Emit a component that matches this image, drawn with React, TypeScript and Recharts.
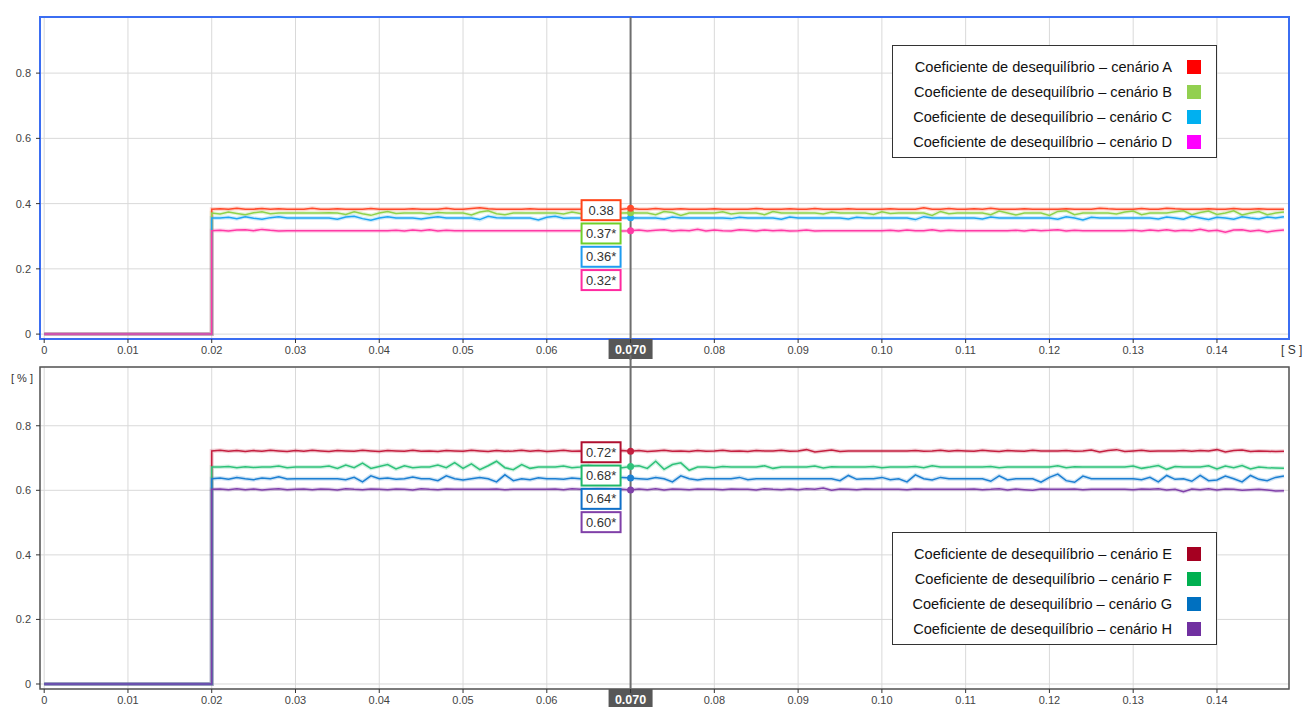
import React from 'react';
import {
  LineChart,
  Line,
  XAxis,
  YAxis,
  CartesianGrid,
  ReferenceArea,
  ReferenceLine,
  ReferenceDot,
  Legend,
} from 'recharts';

const FONT = '"Liberation Sans", Arial, Helvetica, sans-serif';

// ---------- data ----------
const xTicks = [0, 0.01, 0.02, 0.03, 0.04, 0.05, 0.06, 0.07, 0.08, 0.09, 0.1, 0.11, 0.12, 0.13, 0.14];
const xTickLabels = ['0', '0.01', '0.02', '0.03', '0.04', '0.05', '0.06', '0.07', '0.08', '0.09', '0.10', '0.11', '0.12', '0.13', '0.14'];
const yTicks = [0, 0.2, 0.4, 0.6, 0.8];
const yTickLabels = ['0', '0.2', '0.4', '0.6', '0.8'];

const cursorTime = 0.07;
const cursorText = '0.070';

const preTimes = [0, 0.02];
const preValues = [0, 0];

const times = [
  0.020, 0.021, 0.022, 0.023, 0.024, 0.025, 0.026, 0.027, 0.028, 0.029,
  0.030, 0.031, 0.032, 0.033, 0.034, 0.035, 0.036, 0.037, 0.038, 0.039,
  0.040, 0.041, 0.042, 0.043, 0.044, 0.045, 0.046, 0.047, 0.048, 0.049,
  0.050, 0.051, 0.052, 0.053, 0.054, 0.055, 0.056, 0.057, 0.058, 0.059,
  0.060, 0.061, 0.062, 0.063, 0.064, 0.065, 0.066, 0.067, 0.068, 0.069,
  0.070, 0.071, 0.072, 0.073, 0.074, 0.075, 0.076, 0.077, 0.078, 0.079,
  0.080, 0.081, 0.082, 0.083, 0.084, 0.085, 0.086, 0.087, 0.088, 0.089,
  0.090, 0.091, 0.092, 0.093, 0.094, 0.095, 0.096, 0.097, 0.098, 0.099,
  0.100, 0.101, 0.102, 0.103, 0.104, 0.105, 0.106, 0.107, 0.108, 0.109,
  0.110, 0.111, 0.112, 0.113, 0.114, 0.115, 0.116, 0.117, 0.118, 0.119,
  0.120, 0.121, 0.122, 0.123, 0.124, 0.125, 0.126, 0.127, 0.128, 0.129,
  0.130, 0.131, 0.132, 0.133, 0.134, 0.135, 0.136, 0.137, 0.138, 0.139,
  0.140, 0.141, 0.142, 0.143, 0.144, 0.145, 0.146, 0.147, 0.148,
];

const seriesA = [
  0.383, 0.384, 0.383, 0.386, 0.383, 0.383, 0.385, 0.383, 0.384, 0.383,
  0.383, 0.383, 0.386, 0.383, 0.383, 0.384, 0.383, 0.383, 0.383, 0.385,
  0.383, 0.383, 0.383, 0.383, 0.384, 0.383, 0.383, 0.383, 0.386, 0.383,
  0.383, 0.385, 0.387, 0.384, 0.383, 0.383, 0.383, 0.383, 0.384, 0.383,
  0.383, 0.383, 0.383, 0.383, 0.383, 0.383, 0.383, 0.384, 0.383, 0.383,
  0.386, 0.383, 0.383, 0.385, 0.383, 0.383, 0.384, 0.383, 0.383, 0.383,
  0.384, 0.383, 0.383, 0.383, 0.383, 0.385, 0.383, 0.383, 0.383, 0.384,
  0.383, 0.383, 0.385, 0.383, 0.383, 0.383, 0.384, 0.383, 0.383, 0.383,
  0.383, 0.384, 0.383, 0.383, 0.383, 0.387, 0.383, 0.383, 0.385, 0.383,
  0.383, 0.384, 0.383, 0.386, 0.383, 0.383, 0.383, 0.384, 0.383, 0.383,
  0.383, 0.383, 0.384, 0.383, 0.383, 0.383, 0.386, 0.384, 0.383, 0.383,
  0.383, 0.385, 0.383, 0.383, 0.386, 0.384, 0.383, 0.383, 0.383, 0.384,
  0.383, 0.383, 0.385, 0.383, 0.383, 0.384, 0.383, 0.383, 0.383,
];
const seriesB = [
  0.371, 0.368, 0.374, 0.370, 0.366, 0.372, 0.375, 0.369, 0.371, 0.371,
  0.371, 0.371, 0.371, 0.371, 0.372, 0.371, 0.367, 0.375, 0.369, 0.364,
  0.371, 0.376, 0.370, 0.371, 0.371, 0.371, 0.368, 0.373, 0.371, 0.371,
  0.371, 0.365, 0.374, 0.378, 0.369, 0.366, 0.371, 0.371, 0.371, 0.371,
  0.371, 0.371, 0.368, 0.374, 0.370, 0.364, 0.371, 0.377, 0.370, 0.371,
  0.372, 0.371, 0.371, 0.366, 0.376, 0.373, 0.364, 0.371, 0.371, 0.371,
  0.371, 0.375, 0.368, 0.371, 0.371, 0.371, 0.366, 0.376, 0.371, 0.371,
  0.371, 0.371, 0.371, 0.368, 0.374, 0.371, 0.371, 0.371, 0.371, 0.367,
  0.375, 0.370, 0.371, 0.371, 0.371, 0.371, 0.364, 0.376, 0.369, 0.371,
  0.371, 0.371, 0.371, 0.366, 0.377, 0.371, 0.365, 0.371, 0.371, 0.371,
  0.364, 0.376, 0.378, 0.366, 0.371, 0.371, 0.371, 0.371, 0.368, 0.374,
  0.377, 0.366, 0.371, 0.371, 0.371, 0.375, 0.378, 0.366, 0.373, 0.377,
  0.367, 0.371, 0.378, 0.365, 0.371, 0.376, 0.366, 0.371, 0.374,
];
const seriesC = [
  0.356, 0.356, 0.358, 0.354, 0.360, 0.355, 0.352, 0.357, 0.360, 0.356,
  0.356, 0.356, 0.356, 0.356, 0.356, 0.352, 0.359, 0.361, 0.354, 0.349,
  0.356, 0.360, 0.356, 0.356, 0.356, 0.353, 0.357, 0.360, 0.356, 0.356,
  0.356, 0.356, 0.351, 0.361, 0.357, 0.356, 0.356, 0.356, 0.356, 0.350,
  0.358, 0.361, 0.355, 0.356, 0.356, 0.356, 0.352, 0.359, 0.356, 0.356,
  0.357, 0.356, 0.356, 0.356, 0.353, 0.359, 0.356, 0.356, 0.356, 0.356,
  0.356, 0.356, 0.354, 0.358, 0.356, 0.356, 0.356, 0.356, 0.352, 0.359,
  0.356, 0.356, 0.356, 0.356, 0.356, 0.356, 0.353, 0.358, 0.356, 0.356,
  0.356, 0.356, 0.356, 0.356, 0.351, 0.360, 0.356, 0.356, 0.356, 0.356,
  0.356, 0.356, 0.353, 0.359, 0.356, 0.356, 0.356, 0.356, 0.356, 0.356,
  0.356, 0.352, 0.360, 0.356, 0.350, 0.358, 0.356, 0.356, 0.356, 0.356,
  0.356, 0.356, 0.356, 0.353, 0.359, 0.356, 0.352, 0.361, 0.356, 0.351,
  0.358, 0.356, 0.352, 0.360, 0.356, 0.353, 0.359, 0.356, 0.360,
];
const seriesD = [
  0.317, 0.318, 0.316, 0.319, 0.320, 0.317, 0.321, 0.318, 0.316, 0.317,
  0.317, 0.317, 0.317, 0.317, 0.317, 0.317, 0.317, 0.317, 0.317, 0.317,
  0.317, 0.317, 0.318, 0.316, 0.319, 0.317, 0.320, 0.316, 0.318, 0.317,
  0.317, 0.317, 0.317, 0.317, 0.317, 0.317, 0.317, 0.317, 0.317, 0.317,
  0.317, 0.317, 0.317, 0.317, 0.317, 0.317, 0.317, 0.317, 0.318, 0.316,
  0.317, 0.319, 0.316, 0.318, 0.320, 0.316, 0.318, 0.317, 0.321, 0.316,
  0.319, 0.317, 0.316, 0.320, 0.318, 0.316, 0.319, 0.317, 0.318, 0.316,
  0.317, 0.319, 0.316, 0.317, 0.317, 0.317, 0.317, 0.317, 0.317, 0.317,
  0.317, 0.318, 0.316, 0.319, 0.317, 0.317, 0.320, 0.316, 0.318, 0.317,
  0.317, 0.317, 0.317, 0.317, 0.317, 0.317, 0.318, 0.316, 0.319, 0.317,
  0.318, 0.320, 0.316, 0.318, 0.317, 0.317, 0.317, 0.317, 0.317, 0.317,
  0.318, 0.316, 0.319, 0.317, 0.320, 0.316, 0.318, 0.317, 0.321, 0.316,
  0.318, 0.312, 0.319, 0.320, 0.315, 0.318, 0.313, 0.317, 0.319,
];
const seriesE = [
  0.722, 0.724, 0.721, 0.723, 0.720, 0.723, 0.721, 0.724, 0.722, 0.720,
  0.723, 0.721, 0.724, 0.722, 0.720, 0.723, 0.722, 0.721, 0.724, 0.722,
  0.720, 0.723, 0.722, 0.721, 0.724, 0.721, 0.722, 0.720, 0.723, 0.722,
  0.721, 0.724, 0.722, 0.720, 0.723, 0.721, 0.722, 0.724, 0.721, 0.723,
  0.720, 0.722, 0.724, 0.721, 0.722, 0.720, 0.723, 0.722, 0.721, 0.723,
  0.721, 0.723, 0.720, 0.722, 0.724, 0.721, 0.722, 0.720, 0.723, 0.721,
  0.722, 0.724, 0.721, 0.722, 0.720, 0.723, 0.722, 0.722, 0.724, 0.721,
  0.722, 0.726, 0.719, 0.722, 0.725, 0.720, 0.722, 0.722, 0.722, 0.722,
  0.722, 0.722, 0.722, 0.722, 0.723, 0.721, 0.722, 0.724, 0.721, 0.723,
  0.722, 0.721, 0.724, 0.722, 0.720, 0.723, 0.722, 0.721, 0.724, 0.722,
  0.722, 0.722, 0.723, 0.721, 0.722, 0.725, 0.719, 0.723, 0.726, 0.720,
  0.722, 0.724, 0.721, 0.722, 0.722, 0.722, 0.723, 0.721, 0.723, 0.722,
  0.726, 0.719, 0.723, 0.725, 0.720, 0.722, 0.721, 0.720, 0.721,
];
const seriesF = [
  0.672, 0.672, 0.674, 0.670, 0.673, 0.671, 0.672, 0.672, 0.675, 0.670,
  0.672, 0.672, 0.672, 0.672, 0.675, 0.668, 0.678, 0.670, 0.684, 0.668,
  0.674, 0.680, 0.666, 0.676, 0.670, 0.672, 0.672, 0.678, 0.670, 0.686,
  0.668, 0.682, 0.664, 0.676, 0.690, 0.670, 0.664, 0.680, 0.668, 0.672,
  0.672, 0.672, 0.675, 0.670, 0.672, 0.677, 0.668, 0.672, 0.672, 0.670,
  0.674, 0.676, 0.668, 0.690, 0.665, 0.680, 0.685, 0.662, 0.672, 0.672,
  0.670, 0.674, 0.672, 0.672, 0.672, 0.672, 0.676, 0.668, 0.672, 0.672,
  0.672, 0.672, 0.675, 0.669, 0.673, 0.672, 0.672, 0.672, 0.672, 0.674,
  0.670, 0.672, 0.672, 0.672, 0.674, 0.670, 0.676, 0.672, 0.672, 0.672,
  0.672, 0.672, 0.672, 0.674, 0.670, 0.672, 0.672, 0.672, 0.672, 0.672,
  0.672, 0.676, 0.670, 0.673, 0.672, 0.672, 0.672, 0.672, 0.672, 0.672,
  0.675, 0.668, 0.672, 0.677, 0.665, 0.674, 0.672, 0.672, 0.672, 0.676,
  0.666, 0.675, 0.670, 0.677, 0.666, 0.672, 0.670, 0.669, 0.668,
];
const seriesG = [
  0.636, 0.638, 0.634, 0.640, 0.636, 0.633, 0.638, 0.636, 0.642, 0.635,
  0.636, 0.636, 0.636, 0.636, 0.636, 0.636, 0.633, 0.640, 0.626, 0.645,
  0.636, 0.638, 0.634, 0.636, 0.641, 0.636, 0.636, 0.630, 0.645, 0.636,
  0.632, 0.636, 0.640, 0.636, 0.626, 0.648, 0.630, 0.636, 0.633, 0.639,
  0.636, 0.636, 0.634, 0.638, 0.636, 0.636, 0.636, 0.636, 0.633, 0.640,
  0.638, 0.636, 0.634, 0.640, 0.636, 0.626, 0.645, 0.636, 0.632, 0.636,
  0.636, 0.636, 0.636, 0.640, 0.633, 0.636, 0.636, 0.636, 0.636, 0.636,
  0.636, 0.636, 0.636, 0.636, 0.636, 0.630, 0.646, 0.634, 0.636, 0.636,
  0.640, 0.633, 0.636, 0.626, 0.648, 0.636, 0.632, 0.640, 0.636, 0.636,
  0.636, 0.636, 0.636, 0.628, 0.645, 0.632, 0.636, 0.636, 0.636, 0.625,
  0.640, 0.650, 0.630, 0.625, 0.644, 0.636, 0.636, 0.636, 0.636, 0.636,
  0.636, 0.633, 0.640, 0.626, 0.646, 0.634, 0.636, 0.628, 0.646, 0.630,
  0.632, 0.644, 0.636, 0.626, 0.646, 0.634, 0.630, 0.640, 0.644,
];
const seriesH = [
  0.603, 0.604, 0.602, 0.605, 0.602, 0.604, 0.601, 0.603, 0.605, 0.602,
  0.603, 0.604, 0.602, 0.604, 0.603, 0.601, 0.605, 0.603, 0.602, 0.604,
  0.603, 0.602, 0.604, 0.603, 0.601, 0.605, 0.603, 0.602, 0.604, 0.603,
  0.603, 0.603, 0.603, 0.603, 0.604, 0.602, 0.603, 0.603, 0.603, 0.603,
  0.603, 0.604, 0.602, 0.605, 0.603, 0.602, 0.604, 0.603, 0.602, 0.603,
  0.601, 0.604, 0.602, 0.605, 0.601, 0.604, 0.603, 0.602, 0.604, 0.603,
  0.603, 0.602, 0.604, 0.603, 0.603, 0.601, 0.605, 0.603, 0.602, 0.604,
  0.602, 0.605, 0.603, 0.607, 0.600, 0.604, 0.603, 0.602, 0.604, 0.603,
  0.603, 0.603, 0.603, 0.602, 0.604, 0.603, 0.603, 0.603, 0.603, 0.603,
  0.603, 0.604, 0.602, 0.603, 0.605, 0.601, 0.604, 0.602, 0.600, 0.604,
  0.603, 0.603, 0.603, 0.604, 0.602, 0.603, 0.603, 0.603, 0.603, 0.603,
  0.602, 0.604, 0.603, 0.605, 0.601, 0.603, 0.596, 0.604, 0.602, 0.605,
  0.601, 0.604, 0.603, 0.600, 0.602, 0.603, 0.601, 0.598, 0.599,
];

const seriesNames = [
  'Coeficiente de desequilíbrio – cenário A',
  'Coeficiente de desequilíbrio – cenário B',
  'Coeficiente de desequilíbrio – cenário C',
  'Coeficiente de desequilíbrio – cenário D',
  'Coeficiente de desequilíbrio – cenário E',
  'Coeficiente de desequilíbrio – cenário F',
  'Coeficiente de desequilíbrio – cenário G',
  'Coeficiente de desequilíbrio – cenário H',
];
const cursorLabels = ['0.38', '0.37*', '0.36*', '0.32*', '0.72*', '0.68*', '0.64*', '0.60*'];

// ---------- styles ----------
type Series = {
  key: string;
  name: string;
  values: number[];
  line: string;
  swatch: string;
  box: string;
  label: string;
};

const topSeries: Series[] = [
  { key: 'A', name: seriesNames[0], values: seriesA, line: '#ff4a2a', swatch: '#ff0000', box: '#ff4418', label: cursorLabels[0] },
  { key: 'B', name: seriesNames[1], values: seriesB, line: '#8fd24c', swatch: '#92d050', box: '#6fcf2a', label: cursorLabels[1] },
  { key: 'C', name: seriesNames[2], values: seriesC, line: '#1ea6f2', swatch: '#00b0f0', box: '#1e9cf0', label: cursorLabels[2] },
  { key: 'D', name: seriesNames[3], values: seriesD, line: '#ff3aa6', swatch: '#ff00ff', box: '#ff2aa0', label: cursorLabels[3] },
];
const bottomSeries: Series[] = [
  { key: 'E', name: seriesNames[4], values: seriesE, line: '#c41f3f', swatch: '#a50021', box: '#b01030', label: cursorLabels[4] },
  { key: 'F', name: seriesNames[5], values: seriesF, line: '#2fc27a', swatch: '#00b050', box: '#20b868', label: cursorLabels[5] },
  { key: 'G', name: seriesNames[6], values: seriesG, line: '#1c7fd2', swatch: '#0070c0', box: '#1070c8', label: cursorLabels[6] },
  { key: 'H', name: seriesNames[7], values: seriesH, line: '#8040aa', swatch: '#7030a0', box: '#8040a8', label: cursorLabels[7] },
];

function buildRows(list: Series[]) {
  const rows: any[] = [];
  preTimes.forEach((t, i) => {
    const r: any = { t };
    list.forEach((s) => (r[s.key] = preValues[i]));
    rows.push(r);
  });
  times.forEach((t, i) => {
    const r: any = { t };
    list.forEach((s) => (r[s.key] = s.values[i]));
    rows.push(r);
  });
  return rows;
}

const cursorIndex = times.indexOf(cursorTime);
const xDomain: [number, number] = [-0.0005, 0.1486];

const fmtX = (v: number) => {
  if (Math.abs(v - cursorTime) < 1e-9) return '';
  const i = xTicks.findIndex((t) => Math.abs(t - v) < 1e-9);
  return i >= 0 ? xTickLabels[i] : String(v);
};
const fmtY = (v: number) => {
  const i = yTicks.findIndex((t) => Math.abs(t - v) < 1e-9);
  return i >= 0 ? yTickLabels[i] : String(v);
};

const LegendBox = ({ items }: { items: Series[] }) => (
  <div
    style={{
      boxSizing: 'border-box',
      width: 325,
      height: 113,
      border: '1px solid #333',
      background: '#fff',
      padding: '8px 15px 0 0',
      fontFamily: FONT,
      fontSize: 14.6,
      color: '#111',
    }}
  >
    {items.map((it) => (
      <div key={it.key} style={{ display: 'flex', justifyContent: 'flex-end', alignItems: 'center', height: 25 }}>
        <span style={{ whiteSpace: 'nowrap' }}>{it.name}</span>
        <span style={{ display: 'inline-block', flex: '0 0 14px', width: 14, height: 14, background: it.swatch, marginLeft: 15 }} />
      </div>
    ))}
  </div>
);

const makeCursorShape = (extDown: number, extUp: number) => (p: any) => {
  const x = p.x1;
  const yTop = Math.min(p.y1, p.y2);
  const yBot = Math.max(p.y1, p.y2);
  return (
    <g>
      <line x1={x} x2={x} y1={yTop - extUp} y2={yBot + extDown} stroke="#6e6e6e" strokeWidth={2} />
      <rect x={x - 22} y={yBot} width={44} height={20} fill="#575757" />
      <text
        x={x}
        y={yBot + 14.5}
        textAnchor="middle"
        fill="#ffffff"
        fontWeight="bold"
        fontSize={12.5}
        fontFamily={FONT}
      >
        {cursorText}
      </text>
    </g>
  );
};

const makeMarkerShape = (list: Series[], idx: number, offset: number) => (p: any) => {
  const { cx, cy } = p;
  const s = list[idx];
  return (
    <g>
      <circle cx={cx} cy={cy} r={3.5} fill={s.line} />
      {idx === 0 &&
        list.map((b, i) => {
          const top = cy - offset + i * 23.3;
          return (
            <g key={b.key}>
              <rect x={cx - 49} y={top} width={39} height={20} fill="#fff" stroke={b.box} strokeWidth={2} />
              <text x={cx - 29.5} y={top + 14.5} textAnchor="middle" fontSize={13} fill="#333" fontFamily={FONT}>
                {b.label}
              </text>
            </g>
          );
        })}
    </g>
  );
};

type PanelProps = {
  list: Series[];
  height: number;
  marginTop: number;
  xAxisHeight: number;
  yDomain: [number, number];
  frame: string;
  frameWidth: number;
  legendTop: number;
  cursorDown: number;
  cursorUp: number;
  boxOffset: number;
  showS: boolean;
  showPct: boolean;
};

const Panel = (pp: PanelProps) => {
  const rows = buildRows(pp.list);
  return (
    <LineChart
      width={1307}
      height={pp.height}
      data={rows}
      margin={{ top: pp.marginTop, right: 18, bottom: 0, left: 0 }}
      style={{ fontFamily: FONT }}
    >
      <CartesianGrid stroke="#d9d9d9" strokeWidth={1} />
      <XAxis
        dataKey="t"
        type="number"
        domain={xDomain}
        ticks={xTicks}
        allowDataOverflow
        tickFormatter={fmtX}
        axisLine={false}
        tickLine={{ stroke: '#333' }}
        tickSize={4}
        tickMargin={3}
        height={pp.xAxisHeight}
        tick={{ fontSize: 11, fill: '#444', fontFamily: FONT }}
        interval={0}
        label={pp.showS ? { value: '[ S ]', position: 'right', offset: -8, fontSize: 12, fill: '#333' } : undefined}
      />
      <YAxis
        type="number"
        domain={pp.yDomain}
        ticks={yTicks}
        allowDataOverflow
        tickFormatter={fmtY}
        axisLine={false}
        tickLine={{ stroke: '#333' }}
        tickSize={4}
        tickMargin={5}
        width={40}
        tick={{ fontSize: 11, fill: '#444', fontFamily: FONT }}
        interval={0}
        label={pp.showPct ? { value: '[ % ]', position: 'insideTopRight', offset: 7, fontSize: 11, fill: '#333' } : undefined}
      />
      <ReferenceArea
        x1={xDomain[0]}
        x2={xDomain[1]}
        y1={pp.yDomain[0]}
        y2={pp.yDomain[1]}
        fill="none"
        fillOpacity={0}
        stroke={pp.frame}
        strokeWidth={pp.frameWidth}
        ifOverflow="visible"
      />
      {pp.list.map((s) => (
        <Line
          key={'u' + s.key}
          dataKey={s.key}
          type="linear"
          stroke={s.line}
          strokeOpacity={0.22}
          strokeWidth={4}
          dot={false}
          activeDot={false}
          legendType="none"
          isAnimationActive={false}
        />
      ))}
      {pp.list.map((s) => (
        <Line
          key={s.key}
          dataKey={s.key}
          name={s.name}
          type="linear"
          stroke={s.line}
          strokeWidth={1.5}
          dot={false}
          activeDot={false}
          isAnimationActive={false}
        />
      ))}
      <ReferenceLine x={cursorTime} ifOverflow="visible" shape={makeCursorShape(pp.cursorDown, pp.cursorUp)} />
      {pp.list
        .map((s, i) => ({ s, i }))
        .reverse()
        .map(({ s, i }) => (
          <ReferenceDot
            key={'d' + s.key}
            x={cursorTime}
            y={s.values[cursorIndex]}
            r={3.5}
            ifOverflow="visible"
            shape={makeMarkerShape(pp.list, i, pp.boxOffset)}
          />
        ))}
      <Legend
        layout="horizontal"
        verticalAlign="middle"
        align="center"
        wrapperStyle={{ left: 892, top: pp.legendTop, width: 325, height: 113 }}
        content={() => <LegendBox items={pp.list} />}
      />
    </LineChart>
  );
};

export default function App() {
  return (
    <div style={{ position: 'absolute', left: 0, top: 0, width: 1307, height: 707, background: '#fff', overflow: 'hidden', fontFamily: FONT }}>
      <div style={{ position: 'absolute', left: 0, top: 0 }}>
        <Panel
          list={topSeries}
          height={360}
          marginTop={17}
          xAxisHeight={21}
          yDomain={[-0.015, 0.972]}
          frame="#3b6ef2"
          frameWidth={2}
          legendTop={45}
          cursorDown={21}
          cursorUp={0}
          boxOffset={8}
          showS={true}
          showPct={false}
        />
      </div>
      <div style={{ position: 'absolute', left: 0, top: 355 }}>
        <Panel
          list={bottomSeries}
          height={352}
          marginTop={12}
          xAxisHeight={18}
          yDomain={[-0.0155, 0.982]}
          frame="#555555"
          frameWidth={1.5}
          legendTop={177}
          cursorDown={0}
          cursorUp={12}
          boxOffset={9}
          showS={false}
          showPct={true}
        />
      </div>
    </div>
  );
}
